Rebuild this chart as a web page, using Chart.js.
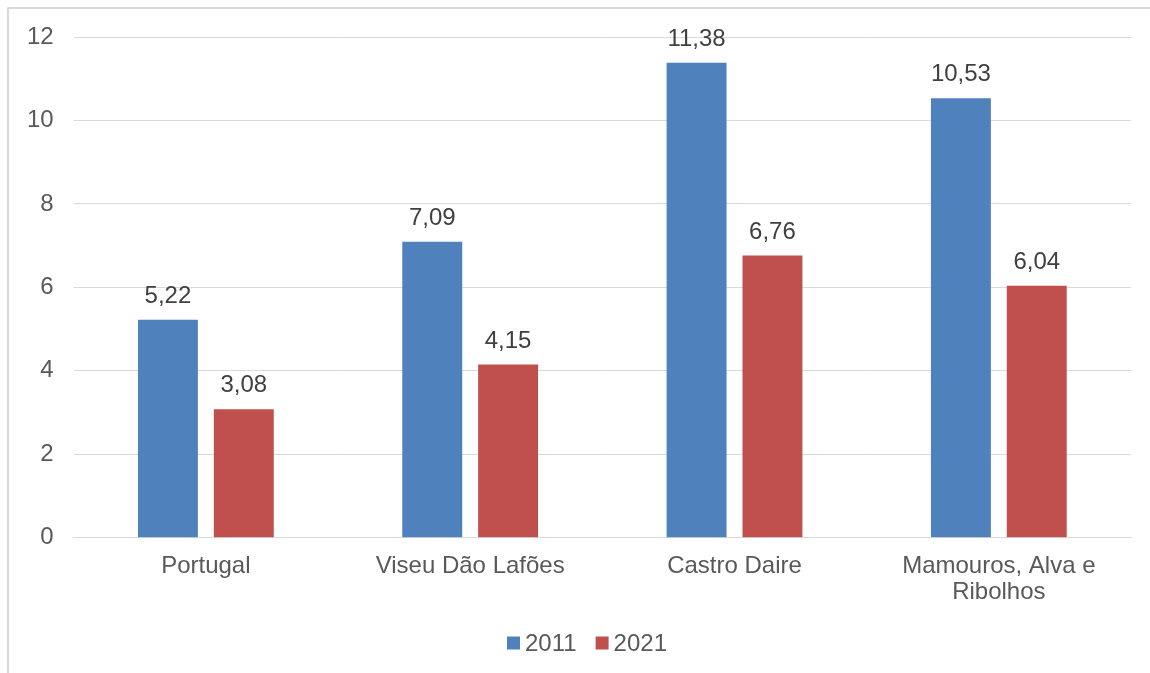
<!DOCTYPE html>
<html>
<head>
<meta charset="utf-8">
<script src="https://cdn.jsdelivr.net/npm/chart.js@4.4.1/dist/chart.umd.min.js"></script>
<style>
  html, body { margin: 0; padding: 0; background: #fff; overflow: hidden; }
  #frame { position: absolute; left: 7px; top: 7px; width: 1300px; height: 800px;
           border-left: 2px solid #d9d9d9; border-top: 2px solid #d9d9d9; }
  #c { position: absolute; left: 0; top: 0; }
</style>
</head>
<body>
<div id="frame"></div>
<canvas id="c" width="1150" height="673"></canvas>
<script>
const categories = ['Portugal', 'Viseu Dão Lafões', 'Castro Daire', ['Mamouros, Alva e', 'Ribolhos']];
const seriesNames = ['2011', '2021'];
const values2011 = [5.22, 7.09, 11.38, 10.53];
const values2021 = [3.08, 4.15, 6.76, 6.04];
const yTicks = [0, 2, 4, 6, 8, 10, 12];

const FONT = "'Liberation Sans', Arial, sans-serif";
const colors = ['#4f81bd', '#c0504d'];

const dataLabels = {
  id: 'dataLabels',
  afterDatasetsDraw(chart) {
    const ctx = chart.ctx;
    ctx.save();
    ctx.font = '24px ' + FONT;
    ctx.fillStyle = '#404040';
    ctx.textAlign = 'center';
    ctx.textBaseline = 'alphabetic';
    chart.data.datasets.forEach((ds, di) => {
      const meta = chart.getDatasetMeta(di);
      meta.data.forEach((bar, i) => {
        const txt = ds.data[i].toFixed(2).replace('.', ',');
        ctx.fillText(txt, bar.x, bar.y - 17);
      });
    });
    ctx.restore();
  }
};

const customLegend = {
  id: 'customLegend',
  afterDraw(chart) {
    const ctx = chart.ctx;
    ctx.save();
    ctx.font = '24px ' + FONT;
    const box = 13, gap = 5, itemGap = 19;
    const items = chart.data.datasets.map(ds => ({ text: ds.label, color: ds.backgroundColor, w: ctx.measureText(ds.label).width }));
    let total = 0;
    items.forEach((it, i) => { total += box + gap + it.w + (i < items.length - 1 ? itemGap : 0); });
    let x = 587 - total / 2;
    const cy = 643;
    ctx.textBaseline = 'middle';
    ctx.textAlign = 'left';
    items.forEach(it => {
      ctx.fillStyle = it.color;
      ctx.fillRect(x, cy - box / 2, box, box);
      x += box + gap;
      ctx.fillStyle = '#595959';
      ctx.fillText(it.text, x, cy + 1);
      x += it.w + itemGap;
    });
    ctx.restore();
  }
};

new Chart(document.getElementById('c'), {
  type: 'bar',
  data: {
    labels: categories,
    datasets: [
      { label: seriesNames[0], data: values2011, backgroundColor: colors[0] },
      { label: seriesNames[1], data: values2021, backgroundColor: colors[1] }
    ]
  },
  options: {
    responsive: false,
    animation: false,
    devicePixelRatio: 1,
    layout: { padding: { left: 7, right: 19, top: 37, bottom: 52 } },
    datasets: { bar: { categoryPercentage: 0.574, barPercentage: 0.79 } },
    plugins: {
      legend: { display: false },
      tooltip: { enabled: false }
    },
    scales: {
      x: {
        grid: { display: false, drawTicks: false },
        border: { display: true, color: '#d9d9d9', width: 1 },
        ticks: { color: '#595959', font: { family: FONT, size: 24, lineHeight: 1.07 }, padding: 16, maxRotation: 0, autoSkip: false }
      },
      y: {
        min: 0, max: 12,
        afterBuildTicks(scale) { scale.ticks = yTicks.map(v => ({ value: v })); },
        grid: { color: '#d9d9d9', lineWidth: 1, drawTicks: false },
        border: { display: false },
        ticks: { color: '#595959', font: { family: FONT, size: 24 }, padding: 20 }
      }
    }
  },
  plugins: [dataLabels, customLegend]
});
</script>
</body>
</html>
